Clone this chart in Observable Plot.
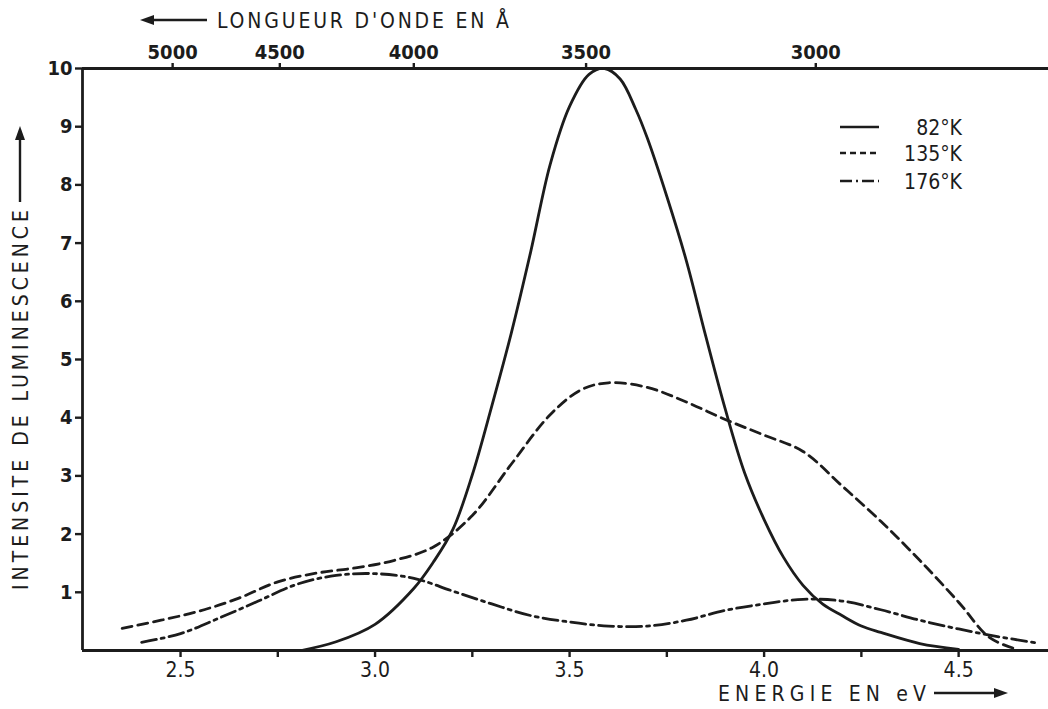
<!DOCTYPE html>
<html><head><meta charset="utf-8">
<script src="https://cdn.jsdelivr.net/npm/d3@7"></script>
<script src="https://cdn.jsdelivr.net/npm/@observablehq/plot@0.6"></script>
<style>
body{margin:0;background:#fff;}
#chart svg{display:block;}
</style></head><body><div id="chart"></div>
<script>
// ---- data ----
const hc = 12398.4; // eV·Å
const wavelengthTicks = [5000, 4500, 4000, 3500, 3000];
const energyMajorTicks = [2.5, 3.0, 3.5, 4.0, 4.5];
const energyMinorTicks = [2.75, 3.25, 3.75, 4.25];
const intensityTicks = [1, 2, 3, 4, 5, 6, 7, 8, 9, 10];

const seriesLabels = ["82°K", "135°K", "176°K"];

const energies82 = [2.81,2.9,3.0,3.1,3.15,3.2,3.25,3.3,3.35,3.4,3.45,3.5,3.55,3.59,3.63,3.67,3.7,3.75,3.8,3.85,3.9,3.95,4.0,4.05,4.1,4.15,4.2,4.25,4.3,4.4,4.5];
const values82   = [0,0.15,0.45,1.07,1.52,2.08,3.02,4.2,5.45,6.85,8.35,9.35,9.9,10,9.82,9.3,8.8,7.8,6.7,5.4,4.15,3.05,2.25,1.6,1.12,0.8,0.6,0.42,0.31,0.12,0.02];

const energies135 = [2.35,2.45,2.55,2.65,2.75,2.85,2.95,3.05,3.15,3.25,3.35,3.45,3.53,3.6,3.7,3.8,3.9,4.0,4.1,4.2,4.3,4.4,4.5,4.58,4.65];
const values135   = [0.38,0.52,0.68,0.9,1.18,1.33,1.42,1.55,1.78,2.32,3.2,4.05,4.48,4.6,4.52,4.27,3.97,3.7,3.42,2.83,2.22,1.55,0.83,0.22,0.02];

const energies176 = [2.4,2.5,2.6,2.7,2.8,2.9,3.0,3.1,3.2,3.3,3.4,3.5,3.6,3.7,3.8,3.9,4.0,4.1,4.2,4.3,4.4,4.5,4.6,4.7];
const values176   = [0.14,0.29,0.56,0.85,1.14,1.29,1.32,1.24,1.02,0.8,0.6,0.49,0.42,0.42,0.52,0.69,0.8,0.88,0.85,0.7,0.52,0.37,0.24,0.13];

// ---- styling ----
const INK = "#1c1c1c";
const FONT = "'DejaVu Sans Condensed', 'DejaVu Sans', sans-serif";
const xDomain = [2.248, 4.731];
const yDomain = [0, 10];

const toRows = (xs, ys) => xs.map((e, i) => ({energy: e, intensity: ys[i]}));
const s82 = toRows(energies82, values82);
const s135 = toRows(energies135, values135);
const s176 = toRows(energies176, values176);

const lineDash = [null, "10,6", "15,5,3,5"];
const legendDash = [null, "6,4", "12,4,2,4"];

function annotations(index, scales, values, dims) {
  const g = d3.create("svg:g").attr("font-family", FONT).attr("fill", INK)
    .attr("text-anchor", "start").attr("font-size", 21);
  const arrowHead = (sel, x, y, dir) => {
    let pts;
    if (dir === "left") pts = [[x, y], [x + 14, y - 5], [x + 14, y + 5]];
    else if (dir === "right") pts = [[x, y], [x - 14, y - 5], [x - 14, y + 5]];
    else pts = [[x, y], [x - 5, y + 14], [x + 5, y + 14]];
    sel.append("path").attr("d", "M" + pts.map(p => p.join(",")).join("L") + "Z").attr("fill", INK);
  };
  // top title
  const ty = 20;
  g.append("line").attr("x1", 150).attr("x2", 207).attr("y1", ty).attr("y2", ty)
    .attr("stroke", INK).attr("stroke-width", 2.4);
  arrowHead(g, 140, ty, "left");
  g.append("text").attr("x", 217).attr("y", ty + 8).attr("text-anchor", "start")
    .attr("textLength", 292).attr("lengthAdjust", "spacing")
    .text("LONGUEUR D'ONDE EN Å");
  // bottom title
  const by = 693;
  g.append("text").attr("x", 718).attr("y", by + 8).attr("text-anchor", "start")
    .attr("textLength", 208).attr("lengthAdjust", "spacing")
    .text("ENERGIE EN eV");
  g.append("line").attr("x1", 934).attr("x2", 998).attr("y1", by).attr("y2", by)
    .attr("stroke", INK).attr("stroke-width", 2.4);
  arrowHead(g, 1008, by, "right");
  // y title
  const lx = 20;
  g.append("text").attr("transform", `translate(${lx + 8},590) rotate(-90)`)
    .attr("text-anchor", "start")
    .attr("textLength", 380).attr("lengthAdjust", "spacing")
    .text("INTENSITE DE LUMINESCENCE");
  g.append("line").attr("x1", lx).attr("x2", lx).attr("y1", 202).attr("y2", 137)
    .attr("stroke", INK).attr("stroke-width", 2.4);
  arrowHead(g, lx, 126, "up");
  // legend
  const rows = [127, 153, 181];
  seriesLabels.forEach((lab, i) => {
    g.append("line").attr("x1", 840).attr("x2", 879).attr("y1", rows[i]).attr("y2", rows[i])
      .attr("stroke", INK).attr("stroke-width", 2.6)
      .attr("stroke-dasharray", legendDash[i]);
    g.append("text").attr("x", 962).attr("y", rows[i] + 8)
      .attr("text-anchor", "end").text(lab);
  });
  return g.node();
}

const chart = Plot.plot({
  width: 1048, height: 709,
  marginLeft: 82, marginRight: 0, marginTop: 68, marginBottom: 59,
  x: {domain: xDomain, label: null},
  y: {domain: yDomain, label: null},
  style: {fontFamily: FONT, background: "#fff", color: INK, overflow: "visible"},
  marks: [
    Plot.ruleY([yDomain[0]], {stroke: INK, strokeWidth: 2.8}),
    Plot.ruleY([yDomain[1]], {stroke: INK, strokeWidth: 2.8}),
    Plot.ruleX([xDomain[0]], {stroke: INK, strokeWidth: 2.8}),
    Plot.axisX(energyMajorTicks, {anchor: "bottom", tickSize: 7, tickPadding: 5, strokeWidth: 2.4,
      tickFormat: d3.format(".1f"), fontSize: 21, label: null}),
    Plot.axisX(energyMinorTicks, {anchor: "bottom", tickSize: 7, strokeWidth: 2.4,
      tickFormat: () => "", label: null}),
    Plot.axisX(wavelengthTicks.map(w => hc / w), {anchor: "top", tickSize: 6, tickPadding: 4, strokeWidth: 2.4,
      tickFormat: e => String(Math.round(hc / e / 10) * 10), fontSize: 20, fontWeight: "bold", label: null}),
    Plot.axisY(intensityTicks, {anchor: "left", tickSize: 7, tickPadding: 3, strokeWidth: 2.4,
      tickFormat: d3.format("d"), fontSize: 20, fontWeight: "bold", label: null}),
    Plot.line(s82, {x: "energy", y: "intensity", curve: "catmull-rom", stroke: INK, strokeWidth: 2.8}),
    Plot.line(s135, {x: "energy", y: "intensity", curve: "catmull-rom", stroke: INK, strokeWidth: 2.8, strokeDasharray: lineDash[1]}),
    Plot.line(s176, {x: "energy", y: "intensity", curve: "catmull-rom", stroke: INK, strokeWidth: 2.8, strokeDasharray: lineDash[2]}),
    annotations
  ]
});
document.getElementById("chart").appendChild(chart);
</script>
</body></html>
